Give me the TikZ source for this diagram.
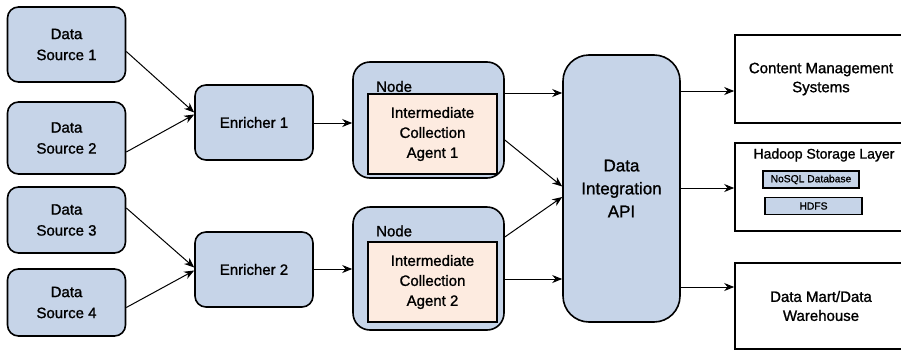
\documentclass[tikz,border=0pt]{standalone}
\usepackage{fontspec}
\setmainfont{Liberation Sans}[FakeBold=1.2]
\usetikzlibrary{arrows.meta}
\definecolor{srcblue}{RGB}{198,212,232}
\definecolor{agentpeach}{RGB}{253,235,224}

\begin{document}
\begin{tikzpicture}[x=1pt,y=-1pt,
  blk/.style={draw,line width=1.6pt,fill=srcblue,rounded corners=11pt,align=center,
    inner sep=0pt,font=\fontsize{15}{21}\selectfont},
  agent/.style={draw,line width=1.6pt,fill=agentpeach,align=center,inner sep=0pt,
    minimum width=129pt,minimum height=80pt,font=\fontsize{15}{20}\selectfont},
  sink/.style={draw,line width=1.6pt,align=center,inner sep=0pt,minimum width=172pt,
    font=\fontsize{15}{19}\selectfont},
  store/.style={draw,line width=1.2pt,fill=srcblue,inner sep=0pt,minimum height=17pt,
    font=\fontsize{10.3}{12}\selectfont},
  flow/.style={line width=1pt,-{Stealth[length=10pt,width=8pt]}}]
  \clip (0,0) rectangle (901,351);

  % sources and enrichers
  \node[blk,minimum width=118pt,minimum height=75pt] (ds1) at (66.5,44.5) {Data\\Source 1};
  \node[blk,minimum width=118pt,minimum height=72pt] (ds2) at (66.5,138) {Data\\Source 2};
  \node[blk,minimum width=118pt,minimum height=66pt] (ds3) at (66.5,220) {Data\\Source 3};
  \node[blk,minimum width=118pt,minimum height=67pt] (ds4) at (66.5,302.5) {Data\\Source 4};
  \node[blk,minimum width=118pt,minimum height=75pt] (e1) at (254,122.5) {Enricher 1};
  \node[blk,minimum width=118pt,minimum height=75pt] (e2) at (254,269.5) {Enricher 2};

  % collection nodes
  \node[blk,rounded corners=17pt,minimum width=151pt,minimum height=116pt] (n1) at (428.5,120) {};
  \node[blk,rounded corners=17pt,minimum width=151pt,minimum height=123pt] (n2) at (428.5,268.5) {};
  \node[anchor=west,inner sep=0pt,font=\fontsize{15}{18}\selectfont] (n1lab) at (376,86.5) {Node};
  \node[anchor=west,inner sep=0pt,font=\fontsize{15}{18}\selectfont] (n2lab) at (376,231) {Node};
  \node[agent] (ag1) at (432.5,134) {Intermediate\\Collection\\Agent 1};
  \node[agent] (ag2) at (432.5,282) {Intermediate\\Collection\\Agent 2};

  \node[blk,rounded corners=26pt,minimum width=117pt,minimum height=267pt,
    font=\fontsize{17}{23}\selectfont] (api) at (621.5,188.5) {Data\\Integration\\API};

  % targets
  \node[sink,minimum height=88pt] (cms) at (821,79) {Content Management\\Systems};
  \node[sink,minimum height=88pt] (hdp) at (821,187) {};
  \node[inner sep=0pt,font=\fontsize{14}{17}\selectfont] (hdplab) at (824,155) {Hadoop Storage Layer};
  \node[store,minimum width=96pt] (nosql) at (811,179.5) {NoSQL Database};
  \node[store,minimum width=97pt] (hdfs) at (813.5,206) {HDFS};
  \node[sink,minimum height=86pt] (dm) at (821,306) {Data Mart/Data\\Warehouse};

  % connectors
  \draw[flow] ([yshift=-7pt]ds1.east) -- ([yshift=10pt]e1.west);
  \draw[flow] ([yshift=-14pt]ds2.east) -- ([yshift=8pt]e1.west);
  \draw[flow] ([yshift=12pt]ds3.east) -- ([yshift=2pt]e2.west);
  \draw[flow] ([yshift=-5pt]ds4.east) -- ([yshift=-1pt]e2.west);
  \coordinate (e1o) at ([yshift=-0.5pt]e1.east);
  \coordinate (e2o) at ([yshift=0.5pt]e2.east);
  \draw[flow] (e1o) -- (e1o -| n1.west);
  \draw[flow] (e2o) -- (e2o -| n2.west);

  \coordinate (n1a) at ([yshift=27pt]n1.east);
  \coordinate (n2b) at ([yshift=-10.5pt]n2.east);
  \draw[flow] (n1a) -- (n1a -| api.west);
  \draw[flow] ([yshift=-20pt]n1.east) -- ([yshift=2pt]api.west);
  \draw[flow] ([yshift=31.5pt]n2.east) -- ([yshift=-8.5pt]api.west);
  \draw[flow] (n2b) -- (n2b -| api.west);

  \coordinate (apia) at ([yshift=97.5pt]api.east);
  \coordinate (apib) at ([yshift=0.5pt]api.east);
  \coordinate (apic) at ([yshift=-98.5pt]api.east);
  \draw[flow] (apia) -- (apia -| cms.west);
  \draw[flow] (apib) -- (apib -| hdp.west);
  \draw[flow] (apic) -- (apic -| dm.west);
\end{tikzpicture}
\end{document}
